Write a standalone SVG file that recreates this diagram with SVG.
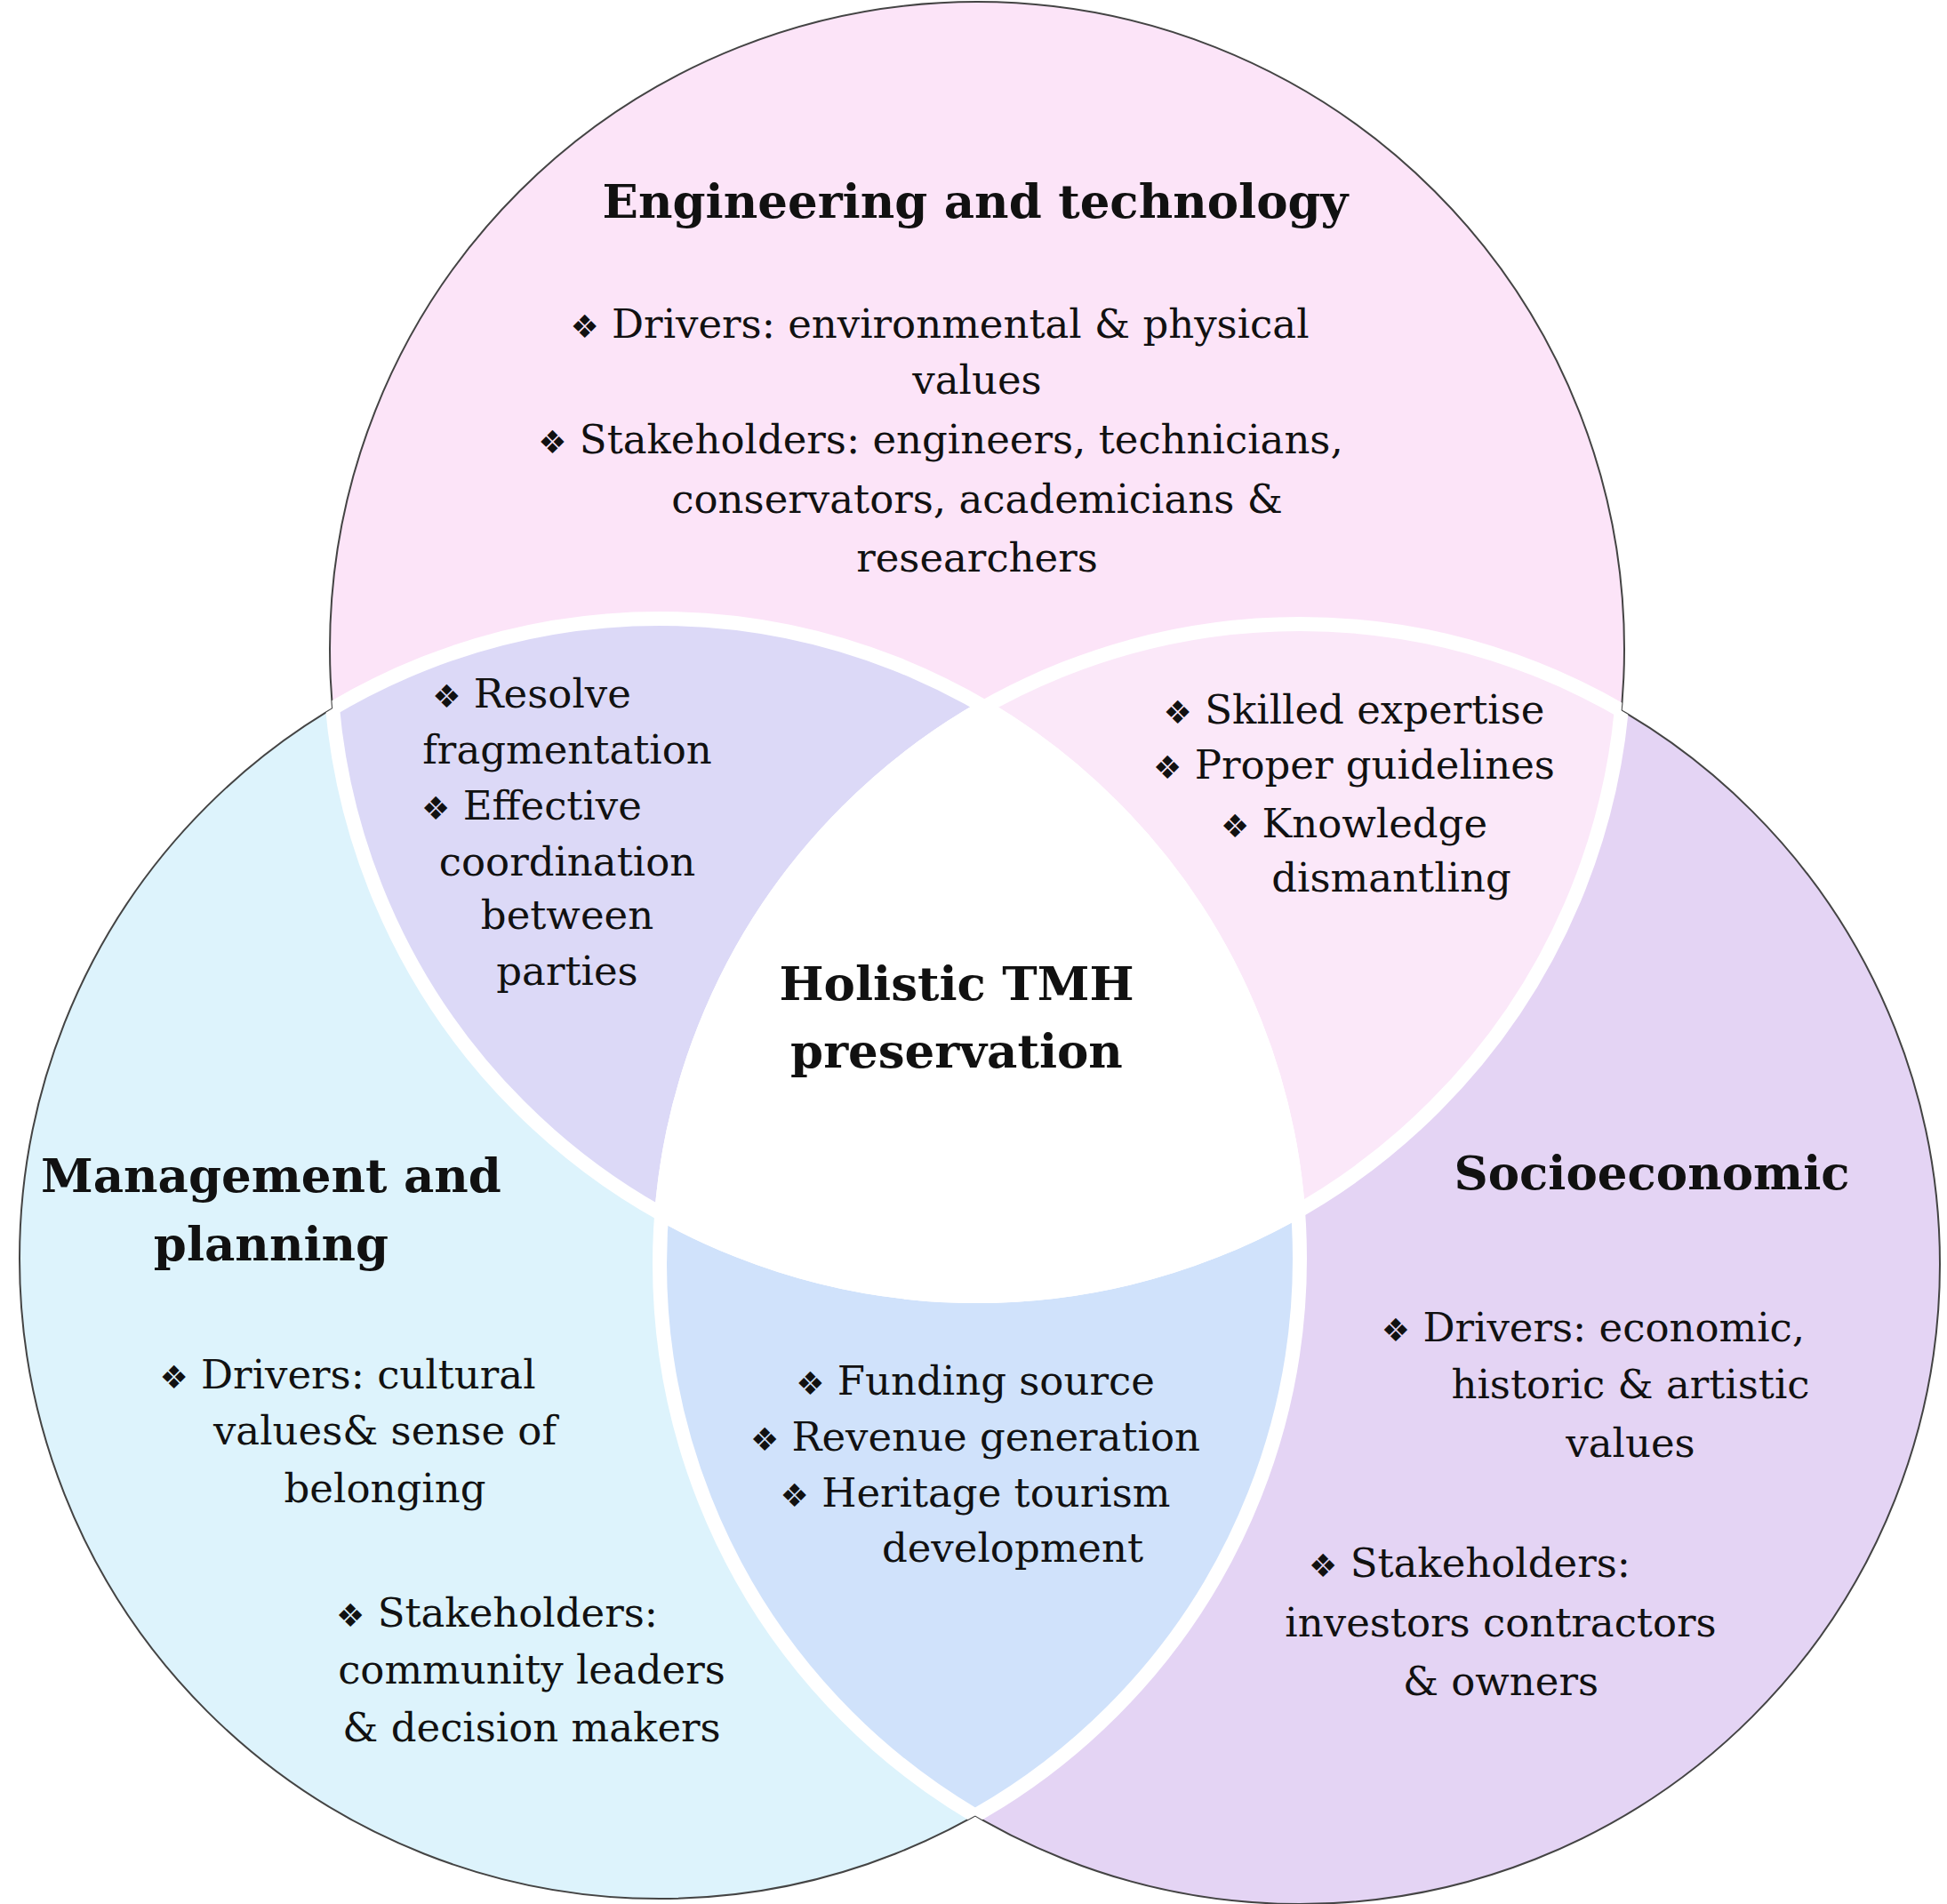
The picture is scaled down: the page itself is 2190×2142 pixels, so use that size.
<svg xmlns="http://www.w3.org/2000/svg" width="2190" height="2142" viewBox="0 0 2190 2142">
<style>
text{font-family:"DejaVu Serif","Liberation Serif",serif;font-size:45px;fill:#111;text-anchor:middle}
.t{font-weight:bold;font-size:53px}
.b{font-family:"DejaVu Sans",sans-serif;font-size:36px}
.gap{fill:none;stroke:#fff;stroke-width:16}
</style>
<defs>
<circle id="cT" cx="1099" cy="730" r="728"/>
<circle id="cL" cx="742" cy="1416" r="720"/>
<circle id="cR" cx="1462" cy="1422" r="720"/>
<clipPath id="kT"><use href="#cT"/></clipPath>
<clipPath id="kL"><use href="#cL"/></clipPath>
<clipPath id="kR"><use href="#cR"/></clipPath>
</defs>
<rect width="2190" height="2142" fill="#fff"/>
<g id="circles">
<use href="#cT" fill="#fce4f8" stroke="#444" stroke-width="2"/>
<use href="#cL" fill="#ddf3fc" stroke="#444" stroke-width="2"/>
<use href="#cR" fill="#e4d4f4" stroke="#444" stroke-width="2"/>
<g clip-path="url(#kT)"><use href="#cL" fill="#dcd9f7"/><use href="#cR" fill="#fbe8f9"/></g>
<g clip-path="url(#kL)"><use href="#cR" fill="#d0e2fb"/></g>
<g clip-path="url(#kT)"><g clip-path="url(#kL)"><use href="#cR" fill="#fff"/></g></g>
<g clip-path="url(#kL)"><use href="#cT" class="gap"/><use href="#cR" class="gap"/></g>
<g clip-path="url(#kR)"><use href="#cT" class="gap"/><use href="#cL" class="gap"/></g>
<g clip-path="url(#kT)"><use href="#cL" class="gap"/><use href="#cR" class="gap"/></g>
</g>
<g id="top">
<text class="t" x="1097" y="245">Engineering  and technology</text>
<text x="1057" y="380"><tspan class="b">❖</tspan>  Drivers: environmental &amp; physical</text>
<text x="1099" y="443">values</text>
<text x="1058" y="510"><tspan class="b">❖</tspan>  Stakeholders: engineers, technicians,</text>
<text x="1099" y="577">conservators, academicians &amp;</text>
<text x="1099" y="643">researchers</text>
</g>
<g id="topleft">
<text x="598" y="796"><tspan class="b">❖</tspan>  Resolve</text>
<text x="638" y="859">fragmentation</text>
<text x="598" y="922"><tspan class="b">❖</tspan>  Effective</text>
<text x="638" y="985">coordination</text>
<text x="638" y="1045">between</text>
<text x="638" y="1108">parties</text>
</g>
<g id="topright">
<text x="1523" y="814"><tspan class="b">❖</tspan>  Skilled expertise</text>
<text x="1523" y="876"><tspan class="b">❖</tspan>  Proper guidelines</text>
<text x="1523" y="942"><tspan class="b">❖</tspan>  Knowledge</text>
<text x="1565" y="1003">dismantling</text>
</g>
<g id="center">
<text class="t" x="1076" y="1125">Holistic TMH</text>
<text class="t" x="1076" y="1201">preservation</text>
</g>
<g id="left">
<text class="t" x="305" y="1341">Management and</text>
<text class="t" x="305" y="1418">planning</text>
<text x="391" y="1562"><tspan class="b">❖</tspan>  Drivers: cultural</text>
<text x="433" y="1625">values&amp; sense of</text>
<text x="433" y="1690">belonging</text>
<text x="559" y="1830"><tspan class="b">❖</tspan>  Stakeholders:</text>
<text x="598" y="1894">community leaders</text>
<text x="598" y="1959">&amp; decision makers</text>
</g>
<g id="bottom">
<text x="1097" y="1569"><tspan class="b">❖</tspan>  Funding source</text>
<text x="1097" y="1632"><tspan class="b">❖</tspan>  Revenue generation</text>
<text x="1097" y="1695"><tspan class="b">❖</tspan>  Heritage tourism</text>
<text x="1139" y="1757">development</text>
</g>
<g id="right">
<text class="t" x="1858" y="1338">Socioeconomic</text>
<text x="1792" y="1509"><tspan class="b">❖</tspan>  Drivers: economic,</text>
<text x="1834" y="1573">historic &amp; artistic</text>
<text x="1834" y="1639">values</text>
<text x="1653" y="1774"><tspan class="b">❖</tspan>  Stakeholders:</text>
<text x="1688" y="1841">investors contractors</text>
<text x="1688" y="1907">&amp; owners</text>
</g>
<g id="connectors"/>
</svg>
